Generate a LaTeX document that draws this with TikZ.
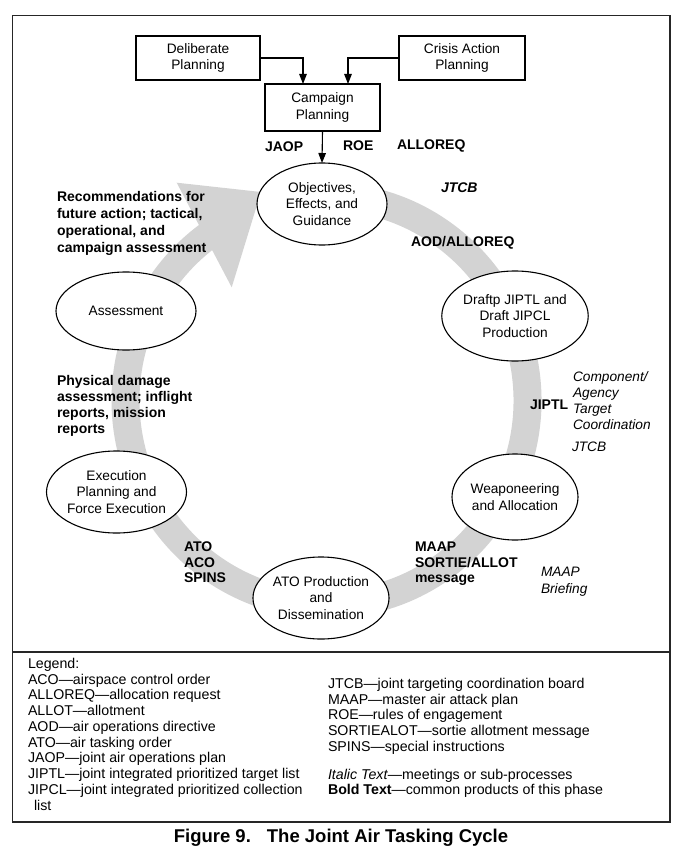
\documentclass[tikz,border=0pt]{standalone}
\usepackage{fontspec}
\setmainfont{Liberation Sans}
\usetikzlibrary{arrows.meta,shapes.geometric}
\definecolor{bandgray}{RGB}{211,211,211}
\begin{document}
\begin{tikzpicture}[x=1pt,y=-1pt,
  every node/.style={inner sep=0pt, outer sep=0pt},
  box/.style={draw, line width=1.3pt, fill=white, align=center, font=\fontsize{13.7}{16.5}\selectfont},
  stage/.style={ellipse, draw, line width=1.1pt, fill=white, align=center, font=\fontsize{13.7}{16.5}\selectfont},
  prod/.style={font=\bfseries\fontsize{14}{16.5}\selectfont, align=left},
  meet/.style={font=\itshape\fontsize{13.7}{16}\selectfont, align=left},
  flow/.style={-{Triangle[length=10pt,width=7.5pt]}, line width=1.1pt},
  band/.style={draw=bandgray, line width=28pt},
  leg/.style={font=\fontsize{14.2}{15.75}\selectfont, align=left, anchor=north west},
]
\useasboundingbox (0,0) rectangle (681,850);
% frame
\draw[line width=1.4pt, black!85] (12.5,15.5) rectangle (670,822);
\draw[line width=1.2pt, black!85] (12.5,652) -- (670,652);

% gray cycle band and arrowhead
\draw[band] (326.5,400.5) ++(260:201 and 204) arc[start angle=260, end angle=596, x radius=201, y radius=204];
\fill[bandgray] (176.7,182.7) -- (261,192) -- (231.7,287.3) -- cycle;

% stages
\node[stage, minimum width=130pt, minimum height=82pt] (obj) at (322,204) {Objectives,\\Effects, and\\Guidance};
\node[stage, minimum width=126pt, minimum height=90pt] (draft) at (515,316) {Draftp JIPTL and\\Draft JIPCL\\Production};
\node[stage, minimum width=126pt, minimum height=86pt] (weap) at (515,497) {Weaponeering\\and Allocation};
\node[stage, minimum width=128pt, minimum height=82pt] (atop) at (321,598) {ATO Production\\and\\Dissemination};
\node[stage, minimum width=121pt, minimum height=82pt] (exec) at (116.5,492) {Execution\\Planning and\\Force Execution};
\node[stage, minimum width=140pt, minimum height=78pt] (assess) at (126,311) {Assessment};

% planning boxes
\node[box, minimum width=124pt, minimum height=44pt] (delib) at (198,58) {Deliberate\\Planning};
\node[box, minimum width=126pt, minimum height=44pt] (crisis) at (462,58) {Crisis Action\\Planning};
\node[box, minimum width=115pt, minimum height=47pt] (camp) at (322.5,107.5) {Campaign\\Planning};

\draw[flow] (delib.east) -| ([xshift=-19.5pt]camp.north);
\draw[flow] (crisis.west) -| ([xshift=25.5pt]camp.north);
\draw[flow] (camp.south) -- (obj.north);

% products (bold) and meetings (italic)
\node[prod, anchor=west] (jaop) at (265,147) {JAOP};
\node[prod, anchor=west] (roe) at (343,146) {ROE};
\node[prod, anchor=west] (alloreq) at (397,146) {ALLOREQ};
\node[font=\bfseries\itshape\fontsize{14}{16.5}\selectfont, anchor=west] (jtcb1) at (441,188) {JTCB};
\node[prod, anchor=west] (aod) at (411,243) {AOD/ALLOREQ};
\node[prod, anchor=north west, font=\bfseries\fontsize{14}{17}\selectfont] (recom) at (57,191) {Recommendations for\\future action; tactical,\\operational, and\\campaign assessment};
\node[prod, anchor=north west, font=\bfseries\fontsize{14}{16}\selectfont] (phys) at (57,375) {Physical damage\\assessment; inflight\\reports, mission\\reports};
\node[prod, anchor=west] (jiptl) at (530,405) {JIPTL};
\node[meet, anchor=north west] (comp) at (573,372) {Component/\\Agency\\Target\\Coordination};
\node[meet, anchor=west] (jtcb2) at (572,447) {JTCB};
\node[prod, anchor=north west, font=\bfseries\fontsize{14}{15.5}\selectfont] (atoprod) at (184,542) {ATO\\ACO\\SPINS};
\node[prod, anchor=north west, font=\bfseries\fontsize{14}{15.5}\selectfont] (maap) at (415,542) {MAAP\\SORTIE/ALLOT\\message};
\node[meet, anchor=north west, font=\itshape\fontsize{13.7}{17}\selectfont] (brief) at (541,567) {MAAP\\Briefing};

% legend
\node[leg] (legl) at (28,658) {Legend:\\ACO—airspace control order\\ALLOREQ—allocation request\\ALLOT—allotment\\AOD—air operations directive\\ATO—air tasking order\\JAOP—joint air operations plan\\JIPTL—joint integrated prioritized target list\\JIPCL—joint integrated prioritized collection\\\hspace*{6pt}list};
\node[leg] (legr) at (328,678) {JTCB—joint targeting coordination board\\MAAP—master air attack plan\\ROE—rules of engagement\\SORTIEALOT—sortie allotment message\\SPINS—special instructions\\[12pt]\textit{Italic Text}—meetings or sub-processes\\\textbf{Bold Text}—common products of this phase};

% caption
\node[font=\bfseries\fontsize{18.5}{21}\selectfont] (cap) at (341,838) {Figure 9.\hspace{16pt}The Joint Air Tasking Cycle};
\end{tikzpicture}
\end{document}
